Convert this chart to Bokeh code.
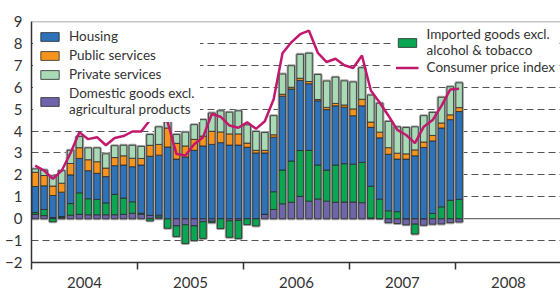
import numpy as np
from bokeh.plotting import figure
from bokeh.models import (ColumnDataSource, Legend, LegendItem, FixedTicker,
                          Range1d, Span, Label)
from bokeh.embed import file_html
from bokeh.resources import INLINE
from bokeh.core.properties import value

# ---------------- data (monthly, Jan 2004 .. Jan 2008) ----------------
years = ["2004", "2005", "2006", "2007", "2008"]

domestic = [0.20, 0.14, 0.05, 0.05, 0.16, 0.20, 0.18, 0.18, 0.18, 0.18, 0.20, 0.25,
            0.20, 0.15, 0.08, 0.00, -0.33, -0.28, -0.33, -0.14, -0.12, 0.00, -0.10, -0.08,
            0.00, 0.00, 0.20, 0.42, 0.68, 0.75, 1.02, 0.80, 0.90, 0.80, 0.75, 0.76,
            0.76, 0.73, 0.03, 0.00, -0.18, -0.22, -0.28, -0.25, -0.30, -0.25, -0.24, -0.18,
            -0.15]
imported = [0.08, 0.28, -0.14, 0.05, 0.53, 0.98, 0.73, 0.70, 0.54, 0.93, 0.74, 0.52,
            0.05, -0.10, 0.08, -0.44, -0.48, -0.85, -0.67, -0.76, -0.06, -0.45, -0.75, -0.82,
            -0.27, -0.33, 0.00, 0.81, 1.54, 1.88, 2.09, 2.32, 1.55, 1.42, 1.70, 1.75,
            1.73, 1.84, 1.45, 0.89, 0.36, 0.32, 0.00, -0.45, 0.00, 0.24, 0.54, 0.84,
            0.88]
housing = [1.19, 1.08, 1.01, 1.11, 1.31, 1.57, 1.28, 1.19, 1.20, 1.31, 1.51, 1.60,
           2.20, 2.70, 2.74, 3.27, 2.72, 2.82, 3.12, 3.32, 3.39, 3.47, 3.36, 3.36,
           3.26, 3.00, 2.80, 2.49, 3.37, 3.29, 3.20, 3.04, 2.93, 2.76, 2.70, 2.58,
           2.21, 2.58, 2.69, 2.80, 2.58, 2.40, 2.72, 2.87, 3.25, 3.31, 3.60, 3.68,
           4.01]
public = [0.65, 0.47, 0.43, 0.41, 0.52, 0.49, 0.50, 0.53, 0.39, 0.37, 0.42, 0.39,
          0.30, 0.50, 0.49, 0.87, 0.72, 0.50, 0.50, 0.45, 0.60, 0.49, 0.51, 0.51,
          0.19, 0.12, 0.12, 0.11, 0.09, 0.08, 0.10, 0.10, 0.06, 0.10, 0.11, 0.10,
          0.31, 0.30, 0.24, 0.26, 0.30, 0.27, 0.24, 0.27, 0.25, 0.25, 0.23, 0.22,
          0.18]
private = [0.15, 0.25, 0.46, 0.57, 0.60, 0.51, 0.54, 0.63, 0.65, 0.54, 0.48, 0.59,
           0.55, 0.49, 0.80, 0.33, 0.40, 0.63, 0.67, 0.75, 0.83, 0.96, 0.99, 1.05,
           0.83, 0.86, 0.81, 0.87, 0.92, 0.98, 1.09, 1.29, 1.14, 1.20, 1.20, 1.10,
           1.23, 1.44, 1.23, 1.32, 1.20, 1.20, 1.20, 1.05, 1.20, 1.05, 1.17, 1.28,
           1.13]
cpi = [2.42, 2.20, 1.82, 2.19, 3.00, 3.95, 3.63, 3.72, 3.35, 3.68, 3.77, 3.98,
       3.98, 4.50, 4.70, 4.40, 2.95, 2.88, 3.40, 3.72, 4.78, 4.65, 4.25, 4.15,
       4.40, 4.10, 4.45, 5.45, 7.55, 8.05, 8.42, 8.58, 7.57, 7.15, 7.30, 7.00,
       6.88, 7.45, 5.85, 5.30, 4.70, 4.05, 3.82, 3.45, 4.20, 4.50, 5.15, 5.90,
       5.93]

# ---------------- stacking ----------------
n = len(housing)
x = np.arange(n) + 0.42
dom = np.array(domestic); imp = np.array(imported)
hou = np.array(housing); pub = np.array(public); pri = np.array(private)
dom_p = np.clip(dom, 0, None); dom_n = np.clip(dom, None, 0)
imp_p = np.clip(imp, 0, None); imp_n = np.clip(imp, None, 0)

imp_bottom = np.where(imp >= 0, dom_p, dom_n + imp)
imp_top = np.where(imp >= 0, dom_p + imp, dom_n)
hou_b = dom_p + imp_p
hou_t = hou_b + hou
pub_t = hou_t + pub
pri_t = pub_t + pri
neg_total = dom_n + imp_n

src = ColumnDataSource(dict(
    x=x, dom_b=dom_n, dom_t=dom_p, imp_b=imp_bottom, imp_t=imp_top,
    hou_b=hou_b, hou_t=hou_t, pub_t=pub_t, pri_t=pri_t, neg=neg_total, cpi=cpi))

C_HOU = "#2E72B8"
C_PUB = "#F7941E"
C_PRI = "#A8DAB6"
C_DOM = "#6F65AB"
C_IMP = "#0AA651"
C_CPI = "#C2186E"
FONT = "Lato"

p = figure(width=560, height=290, output_backend="svg", toolbar_location=None,
           x_range=Range1d(0, 59.9), y_range=Range1d(-2, 9),
           min_border_left=31, min_border_right=0, min_border_top=21,
           min_border_bottom=26)
p.outline_line_color = None
p.background_fill_color = "white"
p.border_fill_color = "white"

# grid
p.xgrid.visible = False
p.ygrid.ticker = FixedTicker(ticks=[-1, 1, 2, 3, 4, 5, 6, 7, 8])
p.ygrid.grid_line_color = "#555555"
p.ygrid.grid_line_dash = "7 4"
p.ygrid.grid_line_width = 1

p.add_layout(Span(location=0, dimension="width", line_color="#6e6e6e",
                  line_width=1.3, level="underlay"))
p.add_layout(Span(location=9, dimension="width", line_color="#8a8a8a",
                  line_width=1.5, level="underlay"))

# axes
p.yaxis.ticker = FixedTicker(ticks=list(range(-2, 10)), minor_ticks=[])
p.yaxis.major_tick_out = 0
p.yaxis.major_tick_in = 0
p.yaxis.minor_tick_out = 0
p.yaxis.major_label_standoff = 9
p.yaxis.axis_line_color = "#333333"
p.yaxis.axis_line_width = 1.5
p.yaxis.major_label_text_font = FONT
p.yaxis.major_label_text_font_size = "15px"
p.yaxis.major_label_text_color = "#333333"

centers = [12 * i + 6 for i in range(len(years))]
bounds = [12 * i for i in range(len(years))]
p.xaxis.ticker = FixedTicker(ticks=centers, minor_ticks=bounds)
p.xaxis.major_label_overrides = {c: y for c, y in zip(centers, years)}
p.xaxis.major_tick_out = 0
p.xaxis.major_tick_in = 0
p.xaxis.minor_tick_out = 7
p.xaxis.minor_tick_in = 0
p.xaxis.minor_tick_line_color = "#333333"
p.xaxis.minor_tick_line_width = 1.5
p.xaxis.major_label_standoff = 7
p.xaxis.axis_line_color = "#333333"
p.xaxis.axis_line_width = 1.5
p.xaxis.major_label_text_font = FONT
p.xaxis.major_label_text_font_size = "15px"
p.xaxis.major_label_text_color = "#333333"

# bars
W = 0.74
p.vbar(x="x", width=W, bottom="neg", top="pri_t", source=src, fill_alpha=0,
       line_color="#a6a6a6", line_width=3)
kw = dict(source=src, width=W, line_color="#2a2a2a", line_width=0.8)
r_dom = p.vbar(x="x", bottom="dom_b", top="dom_t", fill_color=C_DOM, **kw)
r_imp = p.vbar(x="x", bottom="imp_b", top="imp_t", fill_color=C_IMP, **kw)
r_hou = p.vbar(x="x", bottom="hou_b", top="hou_t", fill_color=C_HOU, **kw)
r_pub = p.vbar(x="x", bottom="hou_t", top="pub_t", fill_color=C_PUB, **kw)
r_pri = p.vbar(x="x", bottom="pub_t", top="pri_t", fill_color=C_PRI, **kw)
r_cpi = p.line(x="x", y="cpi", source=src, line_color=C_CPI, line_width=2.5)

common = dict(margin=2, glyph_width=23, glyph_height=11, label_height=16,
              label_standoff=8, label_text_font=FONT, label_text_font_size="13.5px",
              label_text_color="#333333", background_fill_color="white",
              background_fill_alpha=1, border_line_alpha=0)
leg1 = Legend(items=[
    LegendItem(label=value("Housing"), renderers=[r_hou]),
    LegendItem(label=value("Public services"), renderers=[r_pub]),
    LegendItem(label=value("Private services"), renderers=[r_pri]),
    LegendItem(label=value("Domestic goods excl.\nagricultural products"), renderers=[r_dom]),
], location="top_left", padding=5, spacing=3, **common)
leg2 = Legend(items=[
    LegendItem(label=value("Imported goods excl.\nalcohol & tobacco"), renderers=[r_imp]),
    LegendItem(label=value("Consumer price index"), renderers=[r_cpi]),
], location="top_right", padding=3, spacing=1, **common)
p.add_layout(leg1)
p.add_layout(leg2)

p.add_layout(Label(x=0.1, y=9.37, text="%", text_font=FONT,
                   text_font_size="14px", text_color="#333333",
                   text_baseline="middle"))

open("out.html", "w").write(file_html(p, INLINE))
